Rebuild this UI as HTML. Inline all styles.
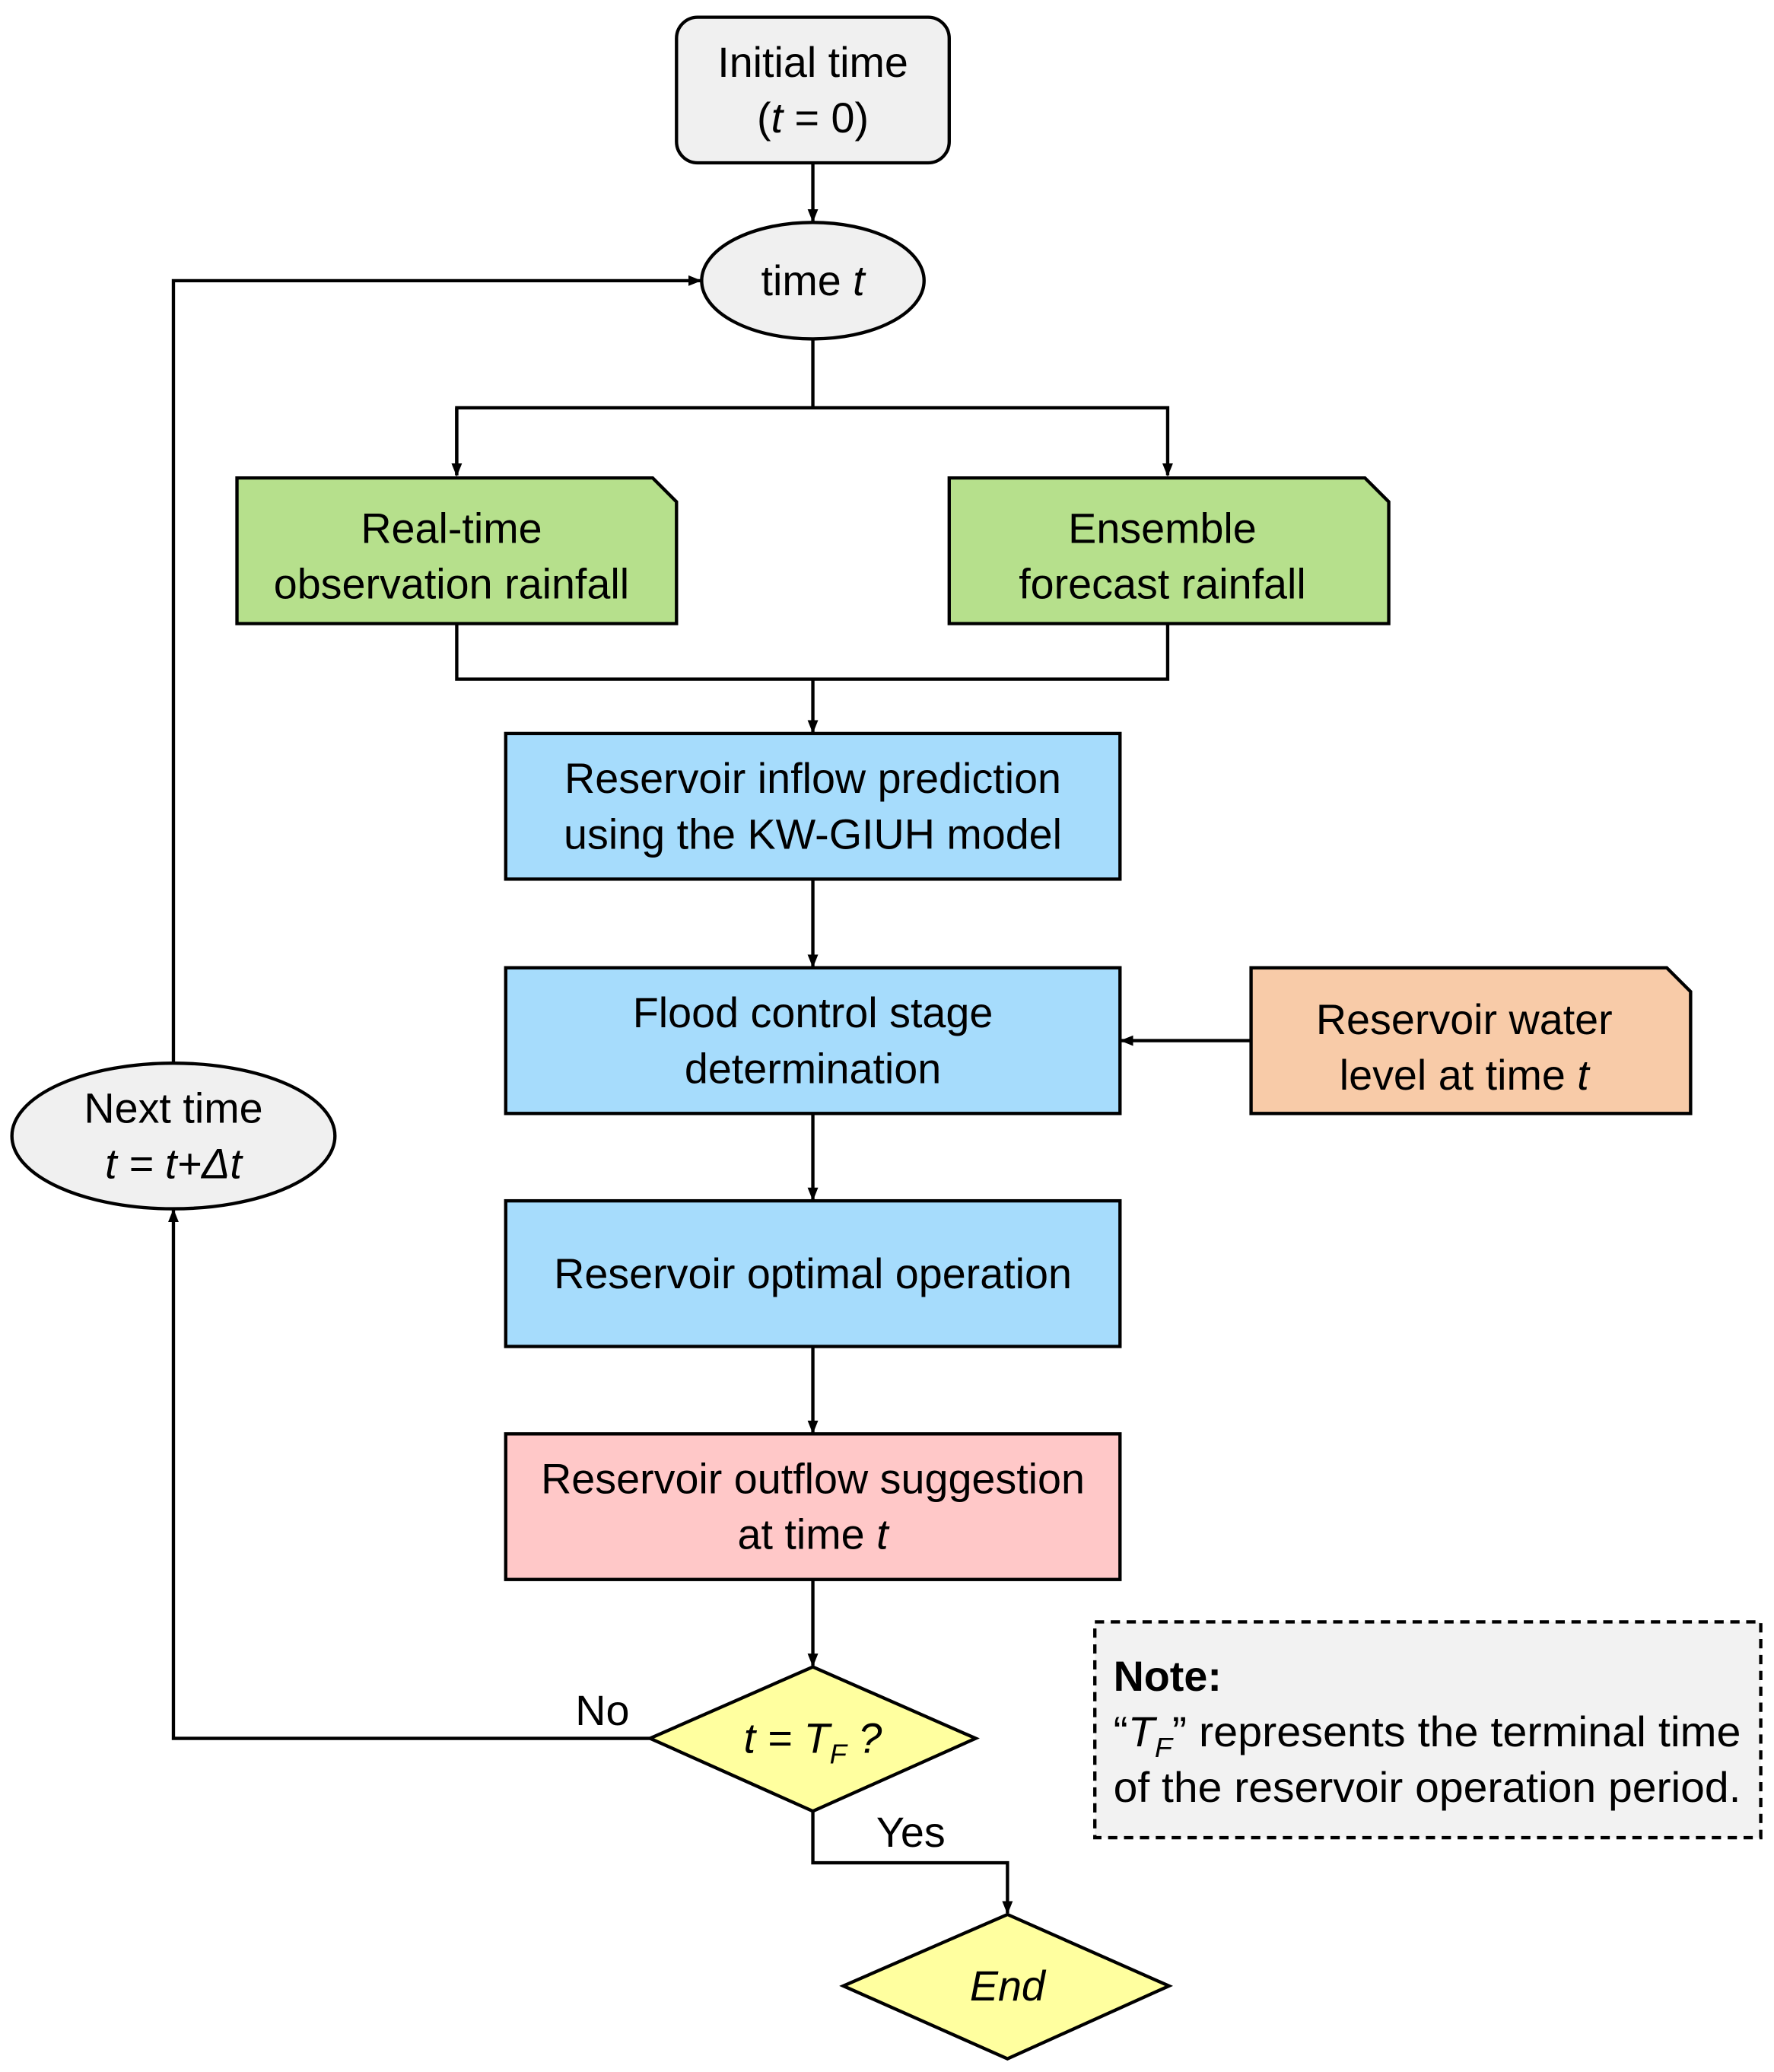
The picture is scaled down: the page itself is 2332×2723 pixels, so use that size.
<!DOCTYPE html>
<html><head><meta charset="utf-8">
<style>
html,body{margin:0;padding:0;background:#fff;}
svg{display:block;}
text{font-family:"Liberation Sans",sans-serif;font-size:32px;fill:#000;}
</style></head><body>
<svg width="2332" height="2723" viewBox="0 0 1340 1565" preserveAspectRatio="none" xmlns="http://www.w3.org/2000/svg">
<defs>
<marker id="a" markerWidth="10" markerHeight="10" refX="9" refY="5" orient="auto" markerUnits="userSpaceOnUse">
<path d="M0,1 L10,5 L0,9 z" fill="#000"/>
</marker>
</defs>
<g stroke="#000" stroke-width="2.5" fill="none">
<line x1="614" y1="123" x2="614" y2="167" marker-end="url(#a)"/>
<line x1="614" y1="256" x2="614" y2="308"/>
<polyline points="345,359 345,308 882,308 882,359" marker-end="url(#a)"/>
<line x1="345" y1="308" x2="345" y2="359" marker-end="url(#a)"/>
<polyline points="345,471 345,513 882,513 882,471"/>
<line x1="614" y1="513" x2="614" y2="553" marker-end="url(#a)"/>
<line x1="614" y1="664" x2="614" y2="730" marker-end="url(#a)"/>
<line x1="945" y1="786" x2="847" y2="786" marker-end="url(#a)"/>
<line x1="614" y1="841" x2="614" y2="906" marker-end="url(#a)"/>
<line x1="614" y1="1017" x2="614" y2="1082" marker-end="url(#a)"/>
<line x1="614" y1="1193" x2="614" y2="1258" marker-end="url(#a)"/>
<polyline points="491,1313 131,1313 131,914" marker-end="url(#a)"/>
<polyline points="131,803 131,212 529,212" marker-end="url(#a)"/>
<polyline points="614,1368 614,1407 761,1407 761,1445" marker-end="url(#a)"/>
</g>
<g stroke="#000" stroke-width="2.5">
<rect x="511" y="13" width="206" height="110" rx="16" fill="#f0f0f0"/>
<ellipse cx="614" cy="212" rx="84" ry="44" fill="#f0f0f0"/>
<path d="M179,361 H493 L511,379 V471 H179 Z" fill="#b6e08c"/>
<path d="M717,361 H1031 L1049,379 V471 H717 Z" fill="#b6e08c"/>
<rect x="382" y="554" width="464" height="110" fill="#a6dcfc"/>
<rect x="382" y="731" width="464" height="110" fill="#a6dcfc"/>
<path d="M945,731 H1259 L1277,749 V841 H945 Z" fill="#f8cba8"/>
<rect x="382" y="907" width="464" height="110" fill="#a6dcfc"/>
<rect x="382" y="1083" width="464" height="110" fill="#ffc8c8"/>
<path d="M614,1259 L737,1313 L614,1368 L491,1313 Z" fill="#ffff9f"/>
<path d="M761,1446 L883,1500 L761,1555 L637,1500 Z" fill="#ffff9f"/>
<ellipse cx="131" cy="858" rx="122" ry="55" fill="#f0f0f0"/>
<rect x="827" y="1225" width="503" height="163" fill="#f2f2f2" stroke-dasharray="7,5"/>
</g>
<g text-anchor="middle">
<text x="614" y="58">Initial time</text>
<text x="614" y="100">(<tspan font-style="italic">t</tspan> = 0)</text>
<text x="614" y="223">time <tspan font-style="italic">t</tspan></text>
<text x="341" y="410">Real-time</text>
<text x="341" y="452">observation rainfall</text>
<text x="878" y="410">Ensemble</text>
<text x="878" y="452">forecast rainfall</text>
<text x="614" y="599">Reservoir inflow prediction</text>
<text x="614" y="641">using the KW-GIUH model</text>
<text x="614" y="776">Flood control stage</text>
<text x="614" y="818">determination</text>
<text x="1106" y="781">Reservoir water</text>
<text x="1106" y="823">level at time <tspan font-style="italic">t</tspan></text>
<text x="614" y="973">Reservoir optimal operation</text>
<text x="614" y="1128">Reservoir outflow suggestion</text>
<text x="614" y="1170">at time <tspan font-style="italic">t</tspan></text>
<text x="614" y="1324" font-style="italic">t = T<tspan font-size="21" dy="8">F</tspan><tspan dy="-8"> ?</tspan></text>
<text x="761" y="1511" font-style="italic">End</text>
<text x="131" y="848">Next time</text>
<text x="131" y="890" font-style="italic">t = t+Δt</text>
<text x="455" y="1303">No</text>
<text x="688" y="1395">Yes</text>
</g>
<text x="841" y="1277" font-weight="bold">Note:</text>
<text x="841" y="1319" textLength="474" lengthAdjust="spacingAndGlyphs">“<tspan font-style="italic">T<tspan font-size="21" dy="8">F</tspan></tspan><tspan dy="-8">” represents the terminal time</tspan></text>
<text x="841" y="1361" textLength="474" lengthAdjust="spacingAndGlyphs">of the reservoir operation period.</text>
</svg>
</body></html>
